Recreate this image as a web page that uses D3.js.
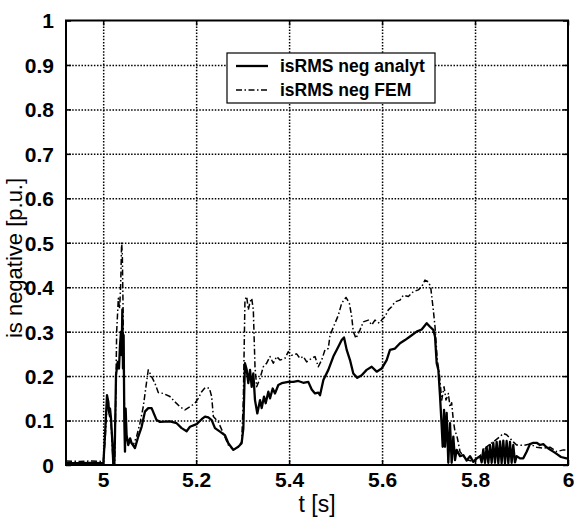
<!DOCTYPE html>
<html>
<head>
<meta charset="utf-8">
<script src="https://cdn.jsdelivr.net/npm/d3@7/dist/d3.min.js"></script>
<style>
  html, body { margin: 0; padding: 0; background: #fff; }
  svg { display: block; }
  .tick text { font-family: "Liberation Sans", Arial, sans-serif; font-weight: bold; font-size: 21px; fill: #000; }
</style>
</head>
<body>
<svg id="chart" width="578" height="518"></svg>
<script>
// Negative-sequence stator current: analytical model vs. FEM
const xTicks = [5, 5.2, 5.4, 5.6, 5.8, 6];
const xTickLabels = ["5", "5.2", "5.4", "5.6", "5.8", "6"];
const yTicks = [0, 0.1, 0.2, 0.3, 0.4, 0.5, 0.6, 0.7, 0.8, 0.9, 1];
const yTickLabels = ["0", "0.1", "0.2", "0.3", "0.4", "0.5", "0.6", "0.7", "0.8", "0.9", "1"];
const seriesNames = ["isRMS neg analyt", "isRMS neg FEM"];

const analytT = [4.92, 4.95, 4.975, 4.998, 5.0004, 5.0039, 5.0082, 5.0111, 5.0125, 5.0147, 5.0168, 5.0197, 5.0218, 5.024,
  5.0254, 5.0276, 5.0312, 5.034, 5.0362, 5.0383, 5.0397, 5.0412, 5.0426, 5.044, 5.0455, 5.0469, 5.0483, 5.0504,
  5.054, 5.058, 5.0612, 5.0683, 5.0755, 5.0827, 5.0898, 5.097, 5.1042, 5.1149, 5.1221, 5.1436, 5.158, 5.1688,
  5.1795, 5.1867, 5.201, 5.2119, 5.2191, 5.2262, 5.2334, 5.2405, 5.2513, 5.262, 5.2692, 5.28, 5.2907, 5.2979,
  5.3015, 5.305, 5.3088, 5.3122, 5.3159, 5.3195, 5.323, 5.3266, 5.3316, 5.3374, 5.341, 5.346, 5.3496, 5.3553,
  5.3589, 5.3647, 5.3697, 5.3768, 5.384, 5.3983, 5.409, 5.4198, 5.4305, 5.4413, 5.4486, 5.4557, 5.4628, 5.4665,
  5.4737, 5.4844, 5.4951, 5.5059, 5.5131, 5.5181, 5.5239, 5.531, 5.5381, 5.5467, 5.5561, 5.5668, 5.5776, 5.5884,
  5.5991, 5.6099, 5.617, 5.6278, 5.6386, 5.6493, 5.6601, 5.6744, 5.6852, 5.696, 5.7031, 5.7102, 5.7139, 5.7175,
  5.7211, 5.7247, 5.7283, 5.7304, 5.7333, 5.7354, 5.739, 5.7425, 5.7462, 5.7497, 5.7533, 5.7569, 5.7605, 5.7677,
  5.7748, 5.782, 5.7892, 5.7963, 5.8036, 5.8107, 5.8143, 5.8178, 5.8214, 5.825, 5.8286, 5.8322, 5.8358, 5.8393,
  5.8429, 5.8465, 5.8501, 5.8537, 5.8572, 5.8608, 5.8644, 5.868, 5.8716, 5.8752, 5.8787, 5.8823, 5.8859, 5.8895,
  5.8967, 5.9038, 5.911, 5.9182, 5.9254, 5.9325, 5.9397, 5.9468, 5.954, 5.9612, 5.9683, 5.9755, 5.985, 5.9969, 6.0];
const analytV = [0.004, 0.004, 0.005, 0.004, 0.004, 0.067, 0.157, 0.142, 0.12, 0.127, 0.105, 0.052, 0.002, 0.002,
  0.067, 0.202, 0.232, 0.217, 0.27, 0.3, 0.247, 0.35, 0.217, 0.292, 0.097, 0.03, 0.127, 0.067,
  0.045, 0.06, 0.049, 0.038, 0.064, 0.086, 0.12, 0.128, 0.128, 0.101, 0.097, 0.098, 0.094, 0.083,
  0.076, 0.086, 0.092, 0.103, 0.109, 0.107, 0.101, 0.083, 0.075, 0.067, 0.049, 0.034, 0.041, 0.049,
  0.082, 0.229, 0.214, 0.184, 0.214, 0.176, 0.206, 0.146, 0.116, 0.146, 0.128, 0.154, 0.139, 0.165,
  0.15, 0.172, 0.161, 0.18, 0.184, 0.187, 0.187, 0.189, 0.185, 0.187, 0.17, 0.161, 0.163, 0.157,
  0.191, 0.214, 0.244, 0.266, 0.281, 0.287, 0.259, 0.236, 0.206, 0.196, 0.202, 0.214, 0.221, 0.21,
  0.217, 0.236, 0.259, 0.262, 0.274, 0.281, 0.289, 0.3, 0.305, 0.319, 0.311, 0.304, 0.289, 0.229,
  0.214, 0.154, 0.086, 0.041, 0.124, 0.041, 0.117, 0.005, 0.094, 0.005, 0.064, 0.011, 0.034, 0.02,
  0.022, 0.01, 0.02, 0.007, 0.015, 0.02, 0.006, 0.035, 0.005, 0.04, 0.005, 0.045, 0.005, 0.05,
  0.005, 0.052, 0.004, 0.053, 0.004, 0.055, 0.004, 0.054, 0.004, 0.052, 0.005, 0.045, 0.006, 0.02,
  0.015, 0.015, 0.03, 0.047, 0.05, 0.05, 0.045, 0.047, 0.04, 0.035, 0.03, 0.025, 0.018, 0.015, 0.015];

const femT = [4.92, 4.95, 4.975, 4.998, 5.0004, 5.0039, 5.0082, 5.0125, 5.0168, 5.0197, 5.0218, 5.0247, 5.0269, 5.029,
  5.0326, 5.0354, 5.0376, 5.0397, 5.0412, 5.0426, 5.044, 5.0469, 5.0504, 5.0576, 5.0647, 5.0719, 5.0791, 5.0862,
  5.092, 5.097, 5.1042, 5.1113, 5.1185, 5.1293, 5.1436, 5.1544, 5.1651, 5.1759, 5.1867, 5.1974, 5.2046, 5.2119,
  5.2191, 5.2284, 5.2334, 5.237, 5.2477, 5.2585, 5.2692, 5.28, 5.2907, 5.2979, 5.3015, 5.305, 5.3088, 5.3122,
  5.3159, 5.3195, 5.323, 5.3266, 5.3302, 5.3374, 5.3445, 5.3517, 5.3589, 5.366, 5.3732, 5.3804, 5.3911, 5.3983,
  5.4054, 5.4162, 5.4233, 5.4305, 5.4377, 5.4484, 5.4557, 5.4628, 5.47, 5.4771, 5.4843, 5.488, 5.4987, 5.5059,
  5.5131, 5.5224, 5.5296, 5.5346, 5.5381, 5.5439, 5.5525, 5.5596, 5.5704, 5.5776, 5.5847, 5.594, 5.5991, 5.6063,
  5.6135, 5.6206, 5.6278, 5.6386, 5.6457, 5.6565, 5.6672, 5.678, 5.6852, 5.6923, 5.6995, 5.7045, 5.7102, 5.7139,
  5.7188, 5.7232, 5.7283, 5.7333, 5.7376, 5.7426, 5.7462, 5.7497, 5.7533, 5.7569, 5.7605, 5.764, 5.7677, 5.7748,
  5.782, 5.7963, 5.8107, 5.825, 5.8393, 5.8537, 5.8608, 5.868, 5.8752, 5.8823, 5.8895, 5.9038, 5.9182, 5.9325,
  5.9468, 5.9612, 5.9755, 5.99, 6.0];
const femV = [0.009, 0.008, 0.009, 0.008, 0.01, 0.052, 0.135, 0.115, 0.097, 0.037, 0.001, 0.001, 0.142, 0.3,
  0.375, 0.352, 0.405, 0.501, 0.472, 0.367, 0.217, 0.067, 0.06, 0.052, 0.045, 0.064, 0.094, 0.131,
  0.176, 0.214, 0.199, 0.184, 0.163, 0.161, 0.154, 0.142, 0.131, 0.124, 0.131, 0.139, 0.15, 0.165,
  0.174, 0.173, 0.154, 0.109, 0.097, 0.071, 0.045, 0.034, 0.041, 0.052, 0.146, 0.371, 0.379, 0.349,
  0.367, 0.375, 0.349, 0.221, 0.176, 0.195, 0.221, 0.229, 0.244, 0.229, 0.244, 0.236, 0.24, 0.255,
  0.247, 0.25, 0.24, 0.244, 0.232, 0.24, 0.244, 0.221, 0.236, 0.259, 0.262, 0.292, 0.319, 0.337,
  0.364, 0.377, 0.364, 0.334, 0.3, 0.285, 0.304, 0.322, 0.326, 0.315, 0.326, 0.319, 0.326, 0.334,
  0.349, 0.356, 0.367, 0.371, 0.382, 0.379, 0.39, 0.394, 0.401, 0.416, 0.412, 0.401, 0.349, 0.311,
  0.236, 0.206, 0.146, 0.176, 0.146, 0.161, 0.13, 0.14, 0.1, 0.075, 0.068, 0.05, 0.03, 0.02,
  0.012, 0.008, 0.02, 0.041, 0.052, 0.064, 0.071, 0.068, 0.06, 0.052, 0.045, 0.044, 0.047, 0.04,
  0.038, 0.04, 0.03, 0.034, 0.034];

const svg = d3.select("#chart");
const plotLeft = 66, plotRight = 568, plotTop = 20.5, plotBottom = 465;
const x = d3.scaleLinear().domain([4.92, 6]).range([plotLeft, plotRight]);
const y = d3.scaleLinear().domain([0, 1]).range([plotBottom, plotTop]);

// dotted grid, drawn through axis generators with full-length ticks
svg.append("g").attr("class", "grid")
  .attr("transform", `translate(0,${plotBottom})`)
  .call(d3.axisBottom(x).tickValues(xTicks.filter(t => t < 6)).tickFormat("").tickSize(-(plotBottom - plotTop)));
svg.append("g").attr("class", "grid")
  .attr("transform", `translate(${plotLeft},0)`)
  .call(d3.axisLeft(y).tickValues(yTicks.filter(t => t > 0 && t < 1)).tickFormat("").tickSize(-(plotRight - plotLeft)));
svg.selectAll(".grid .domain").remove();
svg.selectAll(".grid .tick line")
  .attr("stroke", "#000").attr("stroke-width", 1.5).attr("stroke-dasharray", "1.5,1.6");

// data lines
const plot = svg.append("g");
const lineGen = d3.line().x(d => x(d[0])).y(d => y(d[1]));
const femData = femT.map((t, i) => [t, femV[i]]);
const analytData = analytT.map((t, i) => [t, analytV[i]]);
plot.append("path").datum(femData).attr("d", lineGen)
  .attr("fill", "none").attr("stroke", "#000").attr("stroke-width", 1.5)
  .attr("stroke-dasharray", "6,2.5,1.5,2.5").attr("stroke-linejoin", "round");
plot.append("path").datum(analytData).attr("d", lineGen)
  .attr("fill", "none").attr("stroke", "#000").attr("stroke-width", 2.3)
  .attr("stroke-linejoin", "round");

// axes with inward ticks on all four sides
const fmtX = d => xTickLabels[xTicks.indexOf(d)];
const fmtY = d => yTickLabels[yTicks.indexOf(d)];
const axB = svg.append("g").attr("transform", `translate(0,${plotBottom})`)
  .call(d3.axisBottom(x).tickValues(xTicks).tickFormat(fmtX).tickSize(-5).tickPadding(7));
const axT = svg.append("g").attr("transform", `translate(0,${plotTop})`)
  .call(d3.axisTop(x).tickValues(xTicks).tickFormat("").tickSize(-5));
const axL = svg.append("g").attr("transform", `translate(${plotLeft},0)`)
  .call(d3.axisLeft(y).tickValues(yTicks).tickFormat(fmtY).tickSize(-5).tickPadding(12));
const axR = svg.append("g").attr("transform", `translate(${plotRight},0)`)
  .call(d3.axisRight(y).tickValues(yTicks).tickFormat("").tickSize(-5));
[axB, axT, axL, axR].forEach(a => {
  a.select(".domain").remove();
  a.selectAll(".tick line").attr("stroke", "#000").attr("stroke-width", 1.5);
});
axB.selectAll(".tick text").attr("dy", "0.71em");
axL.selectAll(".tick text").attr("dy", "0.35em");

// frame
svg.append("rect").attr("x", plotLeft).attr("y", plotTop)
  .attr("width", plotRight - plotLeft).attr("height", plotBottom - plotTop)
  .attr("fill", "none").attr("stroke", "#000").attr("stroke-width", 2);

// axis titles
svg.append("text").attr("x", (plotLeft + plotRight) / 2).attr("y", 512)
  .attr("text-anchor", "middle")
  .style("font-family", "Liberation Sans, Arial, sans-serif").style("font-size", "23px")
  .text("t [s]");
svg.append("text").attr("transform", "translate(22,258) rotate(-90)")
  .attr("text-anchor", "middle")
  .style("font-family", "Liberation Sans, Arial, sans-serif").style("font-size", "22px")
  .text("is negative [p.u.]");

// legend
const lg = svg.append("g");
lg.append("rect").attr("x", 227).attr("y", 53).attr("width", 208).attr("height", 50)
  .attr("fill", "#fff").attr("stroke", "#000").attr("stroke-width", 1.2);
const styles = [{ w: 2.3, dash: null }, { w: 1.5, dash: "6,2.5,1.5,2.5" }];
seriesNames.forEach((name, i) => {
  const yy = 66 + i * 24;
  lg.append("line").attr("x1", 236).attr("x2", 268).attr("y1", yy).attr("y2", yy)
    .attr("stroke", "#000").attr("stroke-width", styles[i].w)
    .attr("stroke-dasharray", styles[i].dash);
  lg.append("text").attr("x", 280).attr("y", yy).attr("dy", "0.35em")
    .style("font-family", "Liberation Sans, Arial, sans-serif").style("font-size", "17.5px")
    .style("font-weight", "bold").text(name);
});
</script>
</body>
</html>
